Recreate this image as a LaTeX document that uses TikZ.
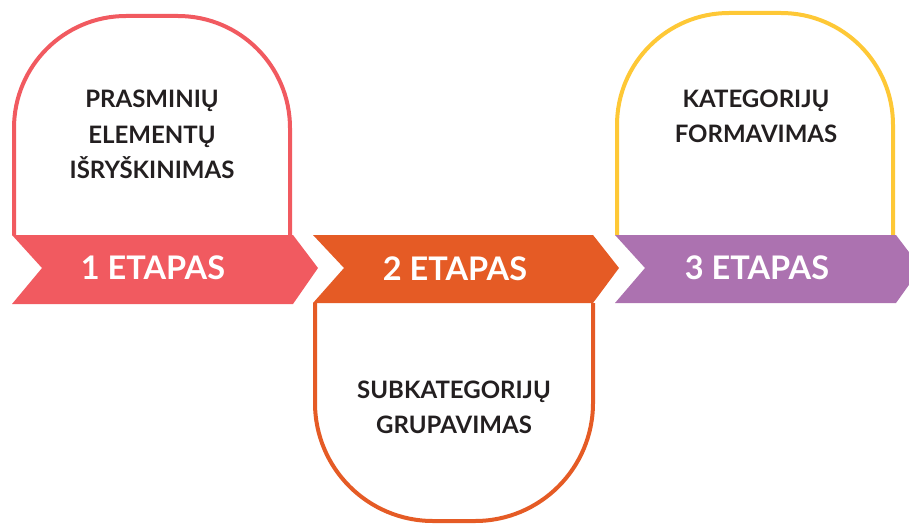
\documentclass[tikz,border=0pt]{standalone}
\usepackage{fontspec}
\setmainfont{Lato}
\definecolor{cred}{HTML}{F15A60}
\definecolor{corange}{HTML}{E55B25}
\definecolor{cpurple}{HTML}{AC72B0}
\definecolor{cyellow}{HTML}{FEC836}
\definecolor{ctext}{HTML}{231F20}
\tikzset{
  arch/.style={line width=4pt, fill=white},
  steplabel/.style={text=white, font=\bfseries\fontsize{32.5}{38}\selectfont, anchor=base, inner sep=0pt},
  boxtext/.style={text=ctext, font=\bfseries\fontsize{24}{29}\selectfont, anchor=base, inner sep=0pt}
}
\begin{document}
\begin{tikzpicture}[x=1pt,y=-1pt]
\useasboundingbox (0,0) rectangle (909,524);
\clip (0,0) rectangle (909,524);
% arches
\draw[arch, draw=cred, rounded corners=112pt] (14,235) -- (14,16) -- (290,16) -- (290,235);
\draw[arch, draw=corange, rounded corners=118pt] (315,303) -- (315,521) -- (593,521) -- (593,303);
\draw[arch, draw=cyellow, rounded corners=112pt] (617,235) -- (617,13) -- (893,13) -- (893,235);
% chevrons
\fill[cred] (12,235) -- (293,235) -- (318,268) -- (293,304) -- (12,304) -- (42,268) -- cycle;
\fill[corange] (313,235) -- (593,235) -- (619,268) -- (593,303) -- (313,303) -- (344,268) -- cycle;
\fill[cpurple] (615,235) -- (896,235) -- (921,268) -- (896,303) -- (615,303) -- (645,268) -- cycle;
% step labels
\node[steplabel] (s1) at (153,279) {1 ETAPAS};
\node[steplabel] (s2) at (455,280) {2 ETAPAS};
\node[steplabel] (s3) at (757,279) {3 ETAPAS};
% box texts
\node[boxtext] (t1a) at (152,107) {PRASMINIŲ};
\node[boxtext] (t1b) at (152,143) {ELEMENTŲ};
\node[boxtext] (t1c) at (152,178) {IŠRYŠKINIMAS};
\node[boxtext] (t2a) at (454,398) {SUBKATEGORIJŲ};
\node[boxtext] (t2b) at (454,433) {GRUPAVIMAS};
\node[boxtext] (t3a) at (756,107) {KATEGORIJŲ};
\node[boxtext] (t3b) at (756,142) {FORMAVIMAS};
\end{tikzpicture}
\end{document}
